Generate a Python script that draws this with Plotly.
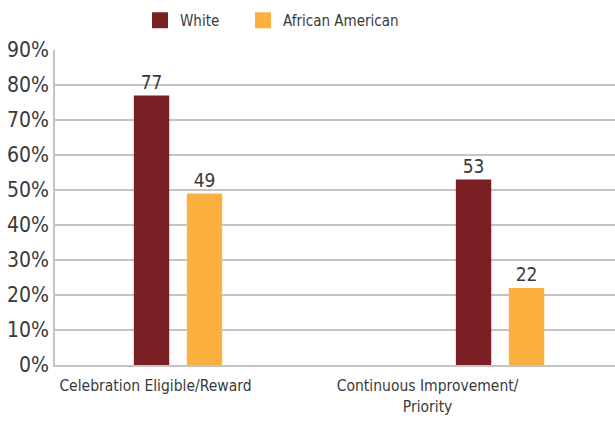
import plotly.graph_objects as go

categories = ["Celebration Eligible/Reward", "Continuous Improvement/<br>Priority"]
series_names = ["White", "African American"]
white_values = [77, 53]
aa_values = [49, 22]
y_tick_values = [0, 10, 20, 30, 40, 50, 60, 70, 80, 90]
y_tick_labels = ["0%", "10%", "20%", "30%", "40%", "50%", "60%", "70%", "80%", "90%"]

colors = ["#7a1f23", "#fbb040"]
FONT = "DejaVu Sans Condensed, Liberation Sans Narrow, sans-serif"
TXT = "#3a3a3a"
GRID = "#c4c4c4"

W, H = 615, 421

positions = list(range(len(categories)))
label_positions = [positions[0] - 0.07, positions[1] - 0.225]

fig = go.Figure()
legend_ids = ["legend", "legend2"]
for name, vals, col, lid in zip(series_names, [white_values, aa_values], colors, legend_ids):
    fig.add_trace(go.Bar(
        x=positions, y=vals, name=name, marker=dict(color=col, line=dict(width=0)),
        text=[str(v) for v in vals], textposition="outside",
        textfont=dict(family=FONT, size=19, color=TXT),
        cliponaxis=False, showlegend=False,
    ))
    fig.add_trace(go.Scatter(
        x=[None], y=[None], name=name, mode="markers", legend=lid,
        marker=dict(symbol="square", size=16, color=col), showlegend=True,
    ))

legend_common = dict(
    orientation="h", xref="container", yref="container",
    xanchor="left", yanchor="middle",
    font=dict(family=FONT, size=15, color=TXT),
    itemsizing="trace", bgcolor="rgba(0,0,0,0)",
)

fig.update_layout(
    template="none",
    width=W, height=H,
    margin=dict(l=55, r=0, t=50, b=H - 365, pad=0),
    paper_bgcolor="white", plot_bgcolor="white",
    barmode="group", bargap=0.671, bargroupgap=0.332,
    font=dict(family=FONT, color=TXT),
    legend=dict(x=140 / W, y=1 - 20.5 / H, **legend_common),
    legend2=dict(x=243 / W, y=1 - 20.5 / H, **legend_common),
    xaxis=dict(
        range=[-0.382, 1.357], tickmode="array", tickvals=label_positions,
        ticktext=categories, showgrid=False, zeroline=False, automargin=False,
        showline=True, linecolor=GRID, linewidth=1.5, ticks="",
        ticklabelstandoff=6,
        tickfont=dict(family=FONT, size=15.5, color=TXT),
    ),
    yaxis=dict(
        range=[0, 90], tickmode="array", tickvals=y_tick_values, ticktext=y_tick_labels,
        showgrid=True, gridcolor=GRID, gridwidth=1.5, zeroline=False, automargin=False,
        showline=True, linecolor=GRID, linewidth=1.5, ticks="",
        tickfont=dict(family=FONT, size=21, color=TXT),
    ),
)

fig.write_html(
    "out.html",
    config={"displayModeBar": False},
    post_script="document.body.style.margin='0';document.body.style.overflow='hidden';",
)
